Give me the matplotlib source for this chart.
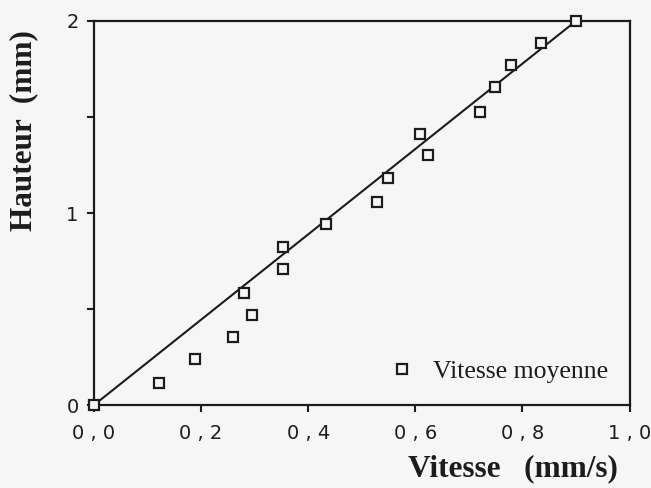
import numpy as np
import matplotlib
matplotlib.use("Agg")
import matplotlib.pyplot as plt
from matplotlib.ticker import FixedLocator, FuncFormatter

# mean speed vs height measurements
vitesse = [0.0, 0.121, 0.188, 0.260, 0.280, 0.295, 0.352, 0.352, 0.433, 0.528,
           0.549, 0.608, 0.624, 0.720, 0.748, 0.778, 0.835, 0.900]
hauteur = [0.0, 0.113, 0.240, 0.352, 0.585, 0.469, 0.825, 0.708, 0.941, 1.056,
           1.184, 1.411, 1.300, 1.524, 1.655, 1.771, 1.884, 2.0]

# straight line through the origin and the last point
fit_x = [0.0, 0.900]
fit_y = [0.0, 2.0]

x_ticks = [0.0, 0.2, 0.4, 0.6, 0.8, 1.0]
y_major = [0, 1, 2]
y_minor = [0.5, 1.5]

ink = "#1c1c1c"
paper = "#f6f6f6"

fig = plt.figure(figsize=(6.51, 4.88), dpi=100, facecolor=paper)
ax = fig.add_axes([0.1444, 0.170, 0.8226, 0.787])
ax.set_facecolor(paper)

ax.plot(fit_x, fit_y, color=ink, lw=1.5, zorder=2)
ax.plot(vitesse, hauteur, linestyle="none", marker="s", markersize=7.5,
        markerfacecolor=paper, markeredgecolor=ink, markeredgewidth=1.6,
        clip_on=False, zorder=3, label="Vitesse moyenne")

ax.set_xlim(0, 1.0)
ax.set_ylim(0, 2.0)

ax.xaxis.set_major_locator(FixedLocator(x_ticks))
ax.xaxis.set_major_formatter(FuncFormatter(lambda v, p: f"{v:.1f}".replace(".", " , ")))
ax.yaxis.set_major_locator(FixedLocator(y_major))
ax.yaxis.set_minor_locator(FixedLocator(y_minor))
ax.yaxis.set_major_formatter(FuncFormatter(lambda v, p: f"{v:g}"))

for s in ax.spines.values():
    s.set_linewidth(1.6)
    s.set_color(ink)

ax.tick_params(axis="both", which="both", direction="out", length=5, width=1.5,
               colors=ink, labelsize=14)
ax.tick_params(axis="x", pad=9)
ax.tick_params(axis="y", pad=6)
for lab in ax.get_xticklabels() + ax.get_yticklabels():
    lab.set_family("DejaVu Sans")

ax.set_xlabel("Vitesse   (mm/s)", fontsize=22.5, fontweight="bold",
              family="Liberation Serif", color=ink)
ax.xaxis.set_label_coords(0.782, -0.128)
ax.set_ylabel("Hauteur  (mm)", fontsize=22.5, fontweight="bold",
              family="Liberation Serif", color=ink)
ax.yaxis.set_label_coords(-0.104, 0.714)

leg = ax.legend(loc="lower right", frameon=False, handlelength=0.6,
                handletextpad=0.9, borderaxespad=0.45,
                prop={"family": "Liberation Serif", "size": 18.5})
for t in leg.get_texts():
    t.set_color(ink)

fig.savefig("out.png", dpi=100, facecolor=paper)
